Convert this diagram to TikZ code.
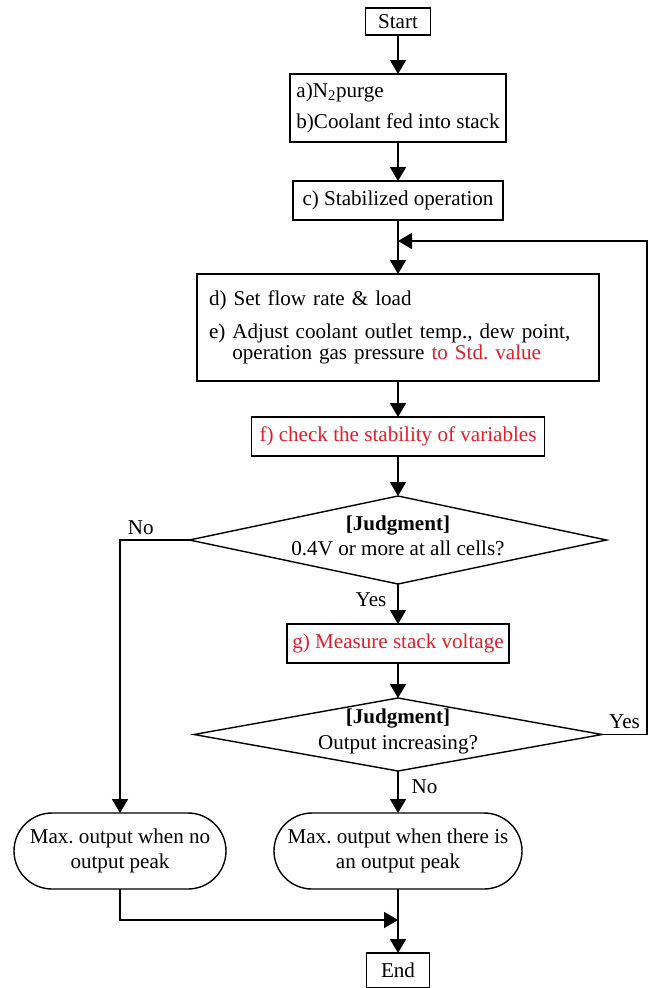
\documentclass[tikz,border=0pt]{standalone}
\usepackage{fontspec}
\setmainfont{Liberation Serif}
\usepackage{tikz}
\usetikzlibrary{positioning,shapes.geometric,arrows.meta}
\definecolor{warnred}{RGB}{228,30,38}
\frenchspacing

\begin{document}
\begin{tikzpicture}[node distance=10mm, >={Triangle[length=3.5mm,width=4mm]},
    every node/.style={font=\fontsize{15pt}{18pt}\selectfont},
    box/.style={draw, line width=1pt, rectangle, inner xsep=1mm, inner ysep=1mm, outer sep=0pt, minimum height=9.75mm},
    decision/.style={draw, line width=1pt, diamond, inner sep=0pt, outer sep=0pt, aspect=4},
    terminal/.style={draw, line width=1pt, rectangle, rounded corners=9.5mm, minimum height=19mm, align=center, inner sep=1mm, outer sep=0pt},
    flow/.style={->, line width=1.3pt}]
        \useasboundingbox (0,0) rectangle (162mm,-247mm);

        % Start and preparation
        \node (start) [box, minimum width=16.25mm, minimum height=6.75mm] at (99.5mm,-5.375mm) {Start};
        \node (purge) [box, minimum width=54mm, minimum height=17mm, align=left, below=9.75mm of start]
        {a)N\textsubscript{2}purge\\[4.5pt] b)Coolant fed into stack};
        \node (stab) [box, minimum width=52.5mm, below=9.75mm of purge] {c) Stabilized operation};

        % Set conditions and check them
        \node (setup) [box, text width=94.5mm, inner xsep=3mm, minimum height=26.75mm, align=left, below=13.5mm of stab]
        {d) Set flow rate \& load\\[5pt]
         e) Adjust coolant outlet temp., dew point,\\[-3pt]
         \hphantom{e) }operation gas pressure \textcolor{warnred}{to Std. value}};
        \node (check) [box, text=warnred, minimum width=73.25mm, below=9mm of setup] {f) check the stability of variables};

        % First judgment
        \node (judgeA) [decision, minimum width=104.25mm, minimum height=22mm, below=10mm of check] {};
        \node [align=center] at ([yshift=1.1mm]judgeA) {\textbf{[Judgment]}\\0.4V or more at all cells?};

        \node (measure) [box, text=warnred, minimum width=55.5mm, below=10mm of judgeA] {g) Measure stack voltage};

        % Second judgment
        \node (judgeB) [decision, minimum width=102mm, minimum height=18.25mm, below=8.75mm of measure] {};
        \node [align=center] at ([yshift=0.8mm]judgeB) {\textbf{[Judgment]}\\Output increasing?};

        % Results
        \node (peak) [terminal, minimum width=62mm, below=10.5mm of judgeB] {Max. output when there is\\an output peak};
        \node (peakno) [terminal, minimum width=53mm, left=12mm of peak] {Max. output when no\\output peak};
        \node (finish) [box, minimum width=15.75mm, minimum height=8.75mm, below=16mm of peak] {End};

        % Points where side lines meet the main line
        \coordinate[below=5.25mm of stab] (join);
        \coordinate[right=11.25mm of judgeB] (rim);
        \coordinate[below=7.75mm of peak] (merge);

        % Main line
        \draw[flow] (start) -- (purge);
        \draw[flow] (purge) -- (stab);
        \draw[flow] (stab) -- (setup);
        \draw[flow] (setup) -- (check);
        \draw[flow] (check) -- (judgeA);
        \draw[flow] (judgeA) -- node[left=1.5mm, pos=0.4] {Yes} (measure);
        \draw[flow] (measure) -- (judgeB);
        \draw[flow] (judgeB) -- node[right=2mm, pos=0.38] {No} (peak);
        \draw[flow] (peak) -- (finish);

        % Side branches
        \draw[flow] (judgeA.west) -| node[above, pos=0.35] {No} (peakno);
        \draw[flow] (judgeB.east) -- node[above] {Yes} (rim) |- (join);
        \draw[flow] (peakno) |- (merge);
      \end{tikzpicture}
\end{document}
